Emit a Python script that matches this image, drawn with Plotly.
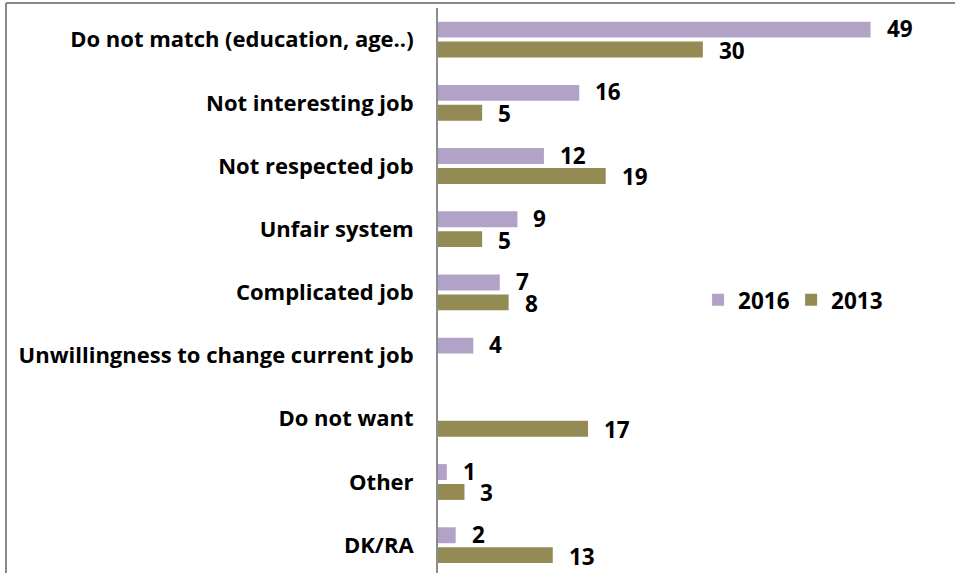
import plotly.graph_objects as go

categories = [
    "Do not match (education, age..)",
    "Not interesting job",
    "Not respected job",
    "Unfair system",
    "Complicated job",
    "Unwillingness to change current job",
    "Do not want",
    "Other",
    "DK/RA",
]
values_2016 = [49, 16, 12, 9, 7, 4, None, 1, 2]
values_2013 = [30, 5, 19, 5, 8, None, 17, 3, 13]

COLOR_2016 = "#B3A2C7"
COLOR_2013 = "#948A54"
FONT = "Open Sans"

pos = list(range(len(categories)))

fig = go.Figure()
fig.add_trace(go.Bar(name="2016", y=pos, x=values_2016, orientation="h",
                     marker=dict(color=COLOR_2016, line=dict(width=0))))
fig.add_trace(go.Bar(name="2013", y=pos, x=values_2013, orientation="h",
                     marker=dict(color=COLOR_2013, line=dict(width=0))))

# value labels beside each bar
half = 0.158
for i, (a, b) in enumerate(zip(values_2016, values_2013)):
    for v, dy, ys in ((a, -half, 1), (b, half, -1)):
        if v is None:
            continue
        fig.add_annotation(x=v, y=i + dy, text=str(v), showarrow=False,
                           xanchor="left", yanchor="middle", xshift=14, yshift=ys,
                           font=dict(family=FONT, size=22.5, color="black", weight="bold"))

# outer frame (top and left edges)
fig.add_shape(type="line", xref="paper", yref="paper",
              x0=-0.84375, x1=1.1, y0=1.00885, y1=1.00885,
              line=dict(color="#878787", width=2))
fig.add_shape(type="line", xref="paper", yref="paper",
              x0=-0.84375, x1=-0.84375, y0=-0.1, y1=1.00885,
              line=dict(color="#878787", width=2))

fig.update_layout(
    width=955, height=573,
    margin=dict(l=438, r=5, t=8, b=0),
    paper_bgcolor="white", plot_bgcolor="white",
    barmode="group", bargap=0.37, bargroupgap=0.2,
    font=dict(family=FONT, size=20, color="black"),
    showlegend=True,
    legend=dict(orientation="h", x=0.508, y=0.483, xanchor="left", yanchor="middle",
                font=dict(family=FONT, size=22.5, color="black", weight="bold"),
                bgcolor="rgba(0,0,0,0)", itemwidth=30, entrywidth=48,
                entrywidthmode="pixels"),
    xaxis=dict(range=[0, 58], showgrid=False, zeroline=False, showticklabels=False,
               showline=False, ticks=""),
    yaxis=dict(range=[8.44, -0.5], tickmode="array", tickvals=pos, ticktext=categories,
               showgrid=False, zeroline=False, showline=True, linecolor="#8C8C8C",
               linewidth=2, ticks="", ticklabelstandoff=18,
               tickfont=dict(family=FONT, size=22, color="black", weight="bold")),
)

fig.write_html("out.html")
